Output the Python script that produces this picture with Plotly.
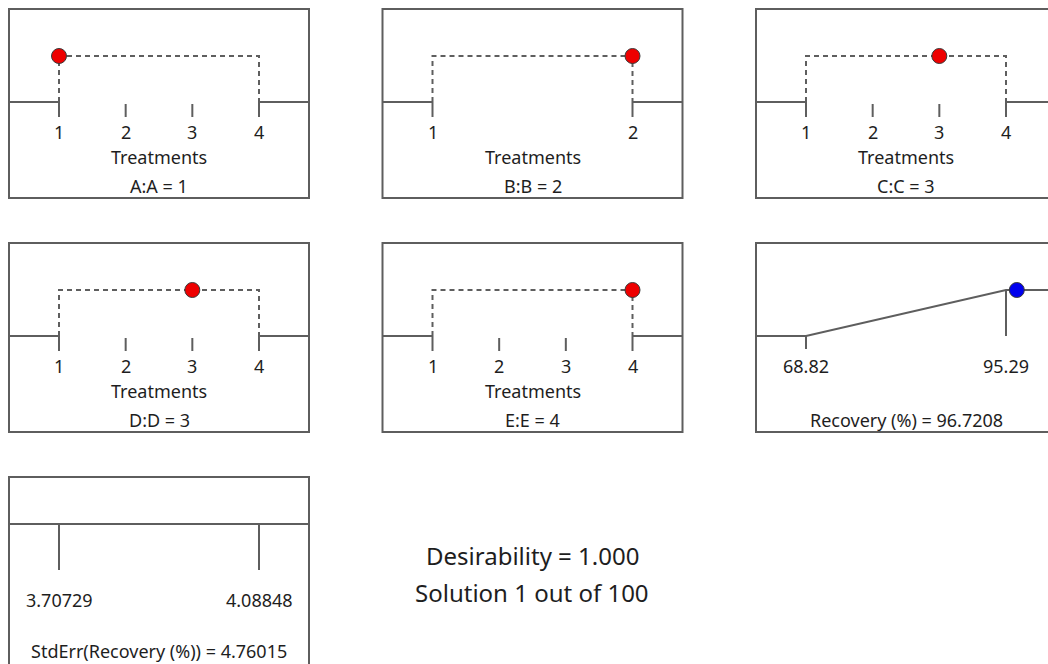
import plotly.graph_objects as go

# ---- figure size (pixels) ----
W, H = 1048, 664

# ---- factor settings (levels and chosen level) ----
factor_names = ["A:A", "B:B", "C:C", "D:D", "E:E"]
factor_levels = [[1, 2, 3, 4], [1, 2], [1, 2, 3, 4], [1, 2, 3, 4], [1, 2, 3, 4]]
factor_values = [1, 2, 3, 3, 4]
factor_axis_title = "Treatments"

# ---- response: Recovery (%) ----
recovery_low, recovery_high = 68.82, 95.29
recovery_value = 96.7208
recovery_label = "Recovery (%)"

# ---- standard error of the response ----
stderr_low, stderr_high = 3.70729, 4.08848
stderr_value = 4.76015
stderr_label = "StdErr(Recovery (%))"

# ---- solution summary ----
desirability = 1.000
solution_index, solution_count = 1, 100

# ---- panel geometry (pixels) ----
BOX_W, BOX_H = 300, 189
TICK_PAD = 50            # distance from box edge to first / last level
D1_OFF, D0_OFF = 47, 93  # desirability 1 / 0 lines below box top
D_SCALE = D0_OFF - D1_OFF
col_left = [9, 382.5, 756]
row_top = [9, 243, 477]

LINE = "#5e5e5e"
TEXT = "#1e1e1e"
FONT = "Noto Sans"
FS = 18

fig = go.Figure()
shapes, annotations = [], []
layout_axes = {}


def add_panel(idx, left, top, lo, hi):
    """Create an invisible axis pair whose scale places lo/hi at the tick slots."""
    span = BOX_W - 2 * TICK_PAD

    def xval(px):
        return lo + (px - (left + TICK_PAD)) / span * (hi - lo)

    def yval(py):
        return (top + D0_OFF - py) / D_SCALE

    px0, px1 = max(left, 0), min(left + BOX_W, W)
    pyt, pyb = top, min(top + BOX_H, H)
    sfx = "" if idx == 1 else str(idx)
    layout_axes["xaxis" + sfx] = dict(
        domain=[px0 / W, px1 / W], range=[xval(px0), xval(px1)],
        visible=False, anchor="y" + sfx, fixedrange=True)
    layout_axes["yaxis" + sfx] = dict(
        domain=[1 - pyb / H, 1 - pyt / H], range=[yval(pyb), yval(pyt)],
        visible=False, anchor="x" + sfx, fixedrange=True)
    shapes.append(dict(type="rect", xref="paper", yref="paper",
                       x0=left / W, x1=(left + BOX_W) / W,
                       y0=1 - (top + BOX_H) / H, y1=1 - top / H,
                       line=dict(color=LINE, width=2)))
    return "x" + sfx, "y" + sfx, xval(left), xval(left + BOX_W)


def label(xa, ya, x, y, text, size=FS):
    annotations.append(dict(xref=xa, yref=ya, x=x, y=y, text=text, showarrow=False,
                            font=dict(family=FONT, size=size, color=TEXT),
                            xanchor="center", yanchor="middle"))


def seg_trace(xa, ya, xs, ys, dash="solid"):
    fig.add_trace(go.Scatter(x=xs, y=ys, mode="lines", xaxis=xa, yaxis=ya,
                             line=dict(color=LINE, width=2, dash=dash),
                             hoverinfo="skip", showlegend=False))


TICK_LBL_Y = -30 / D_SCALE
AXIS_TITLE_Y = -55 / D_SCALE
PANEL_TITLE_Y = -84 / D_SCALE
TICK_LEN = 15 / D_SCALE

positions = [(0, 0), (0, 1), (0, 2), (1, 0), (1, 1)]
panel = 1
for name, levels, val, (r, c) in zip(factor_names, factor_levels, factor_values, positions):
    lo, hi = levels[0], levels[-1]
    xa, ya, xmin, xmax = add_panel(panel, col_left[c], row_top[r], lo, hi)
    # desirability outside the range (zero)
    seg_trace(xa, ya, [xmin, lo], [0, 0])
    seg_trace(xa, ya, [hi, xmax], [0, 0])
    # in-range plateau
    seg_trace(xa, ya, [lo, lo, hi, hi], [0, 1, 1, 0], dash="5px,4px")
    # level ticks
    tx, ty = [], []
    for lv in levels:
        start = 0 if lv in (lo, hi) else -2 / D_SCALE
        tx += [lv, lv, None]
        ty += [start, -TICK_LEN, None]
        label(xa, ya, lv, TICK_LBL_Y, str(lv))
    seg_trace(xa, ya, tx, ty)
    fig.add_trace(go.Scatter(x=[val], y=[1], mode="markers", xaxis=xa, yaxis=ya,
                             marker=dict(size=15, color="#ee0000",
                                         line=dict(color="#3a3a3a", width=1)),
                             hoverinfo="skip", showlegend=False))
    mid = (lo + hi) / 2
    label(xa, ya, mid, AXIS_TITLE_Y, factor_axis_title)
    label(xa, ya, mid, PANEL_TITLE_Y, f"{name} = {val}")
    panel += 1

# Recovery desirability ramp
xa, ya, xmin, xmax = add_panel(panel, col_left[2], row_top[1], recovery_low, recovery_high)
seg_trace(xa, ya, [xmin, recovery_low, recovery_high, xmax], [0, 0, 1, 1])
seg_trace(xa, ya, [recovery_low, recovery_low, None, recovery_high, recovery_high],
          [0, -13 / D_SCALE, None, 1, 0])
fig.add_trace(go.Scatter(x=[recovery_value], y=[1], mode="markers", xaxis=xa, yaxis=ya,
                         marker=dict(size=15, color="#0000ee",
                                     line=dict(color="#3a3a3a", width=1)),
                         hoverinfo="skip", showlegend=False))
label(xa, ya, recovery_low, TICK_LBL_Y, f"{recovery_low:.2f}")
label(xa, ya, recovery_high, TICK_LBL_Y, f"{recovery_high:.2f}")
label(xa, ya, (recovery_low + recovery_high) / 2, PANEL_TITLE_Y,
      f"{recovery_label} = {recovery_value:g}")
panel += 1

# Standard error panel (sits at the page bottom, so its caption is nudged up)
xa, ya, xmin, xmax = add_panel(panel, col_left[0], row_top[2], stderr_low, stderr_high)
seg_trace(xa, ya, [xmin, xmax], [1, 1])
seg_trace(xa, ya, [stderr_low, stderr_low, None, stderr_high, stderr_high],
          [1, 0, None, 1, 0])
label(xa, ya, stderr_low, TICK_LBL_Y, f"{stderr_low:g}")
label(xa, ya, stderr_high, TICK_LBL_Y, f"{stderr_high:g}")
label(xa, ya, (stderr_low + stderr_high) / 2, -81 / D_SCALE,
      f"{stderr_label} = {stderr_value:g}")

# Solution summary
summary_lines = [f"Desirability = {desirability:.3f}",
                 f"Solution {solution_index} out of {solution_count}"]
for text, ypx in zip(summary_lines, [555, 592]):
    annotations.append(dict(
        xref="paper", yref="paper", x=532 / W, y=1 - ypx / H, text=text,
        showarrow=False, xanchor="center", yanchor="middle",
        font=dict(family=FONT, size=24, color=TEXT)))

fig.update_layout(
    width=W, height=H, autosize=False,
    margin=dict(l=0, r=0, t=0, b=0),
    paper_bgcolor="white", plot_bgcolor="rgba(0,0,0,0)",
    shapes=shapes, annotations=annotations, showlegend=False,
    **layout_axes)

fig.write_html("out.html", config={"displayModeBar": False})
